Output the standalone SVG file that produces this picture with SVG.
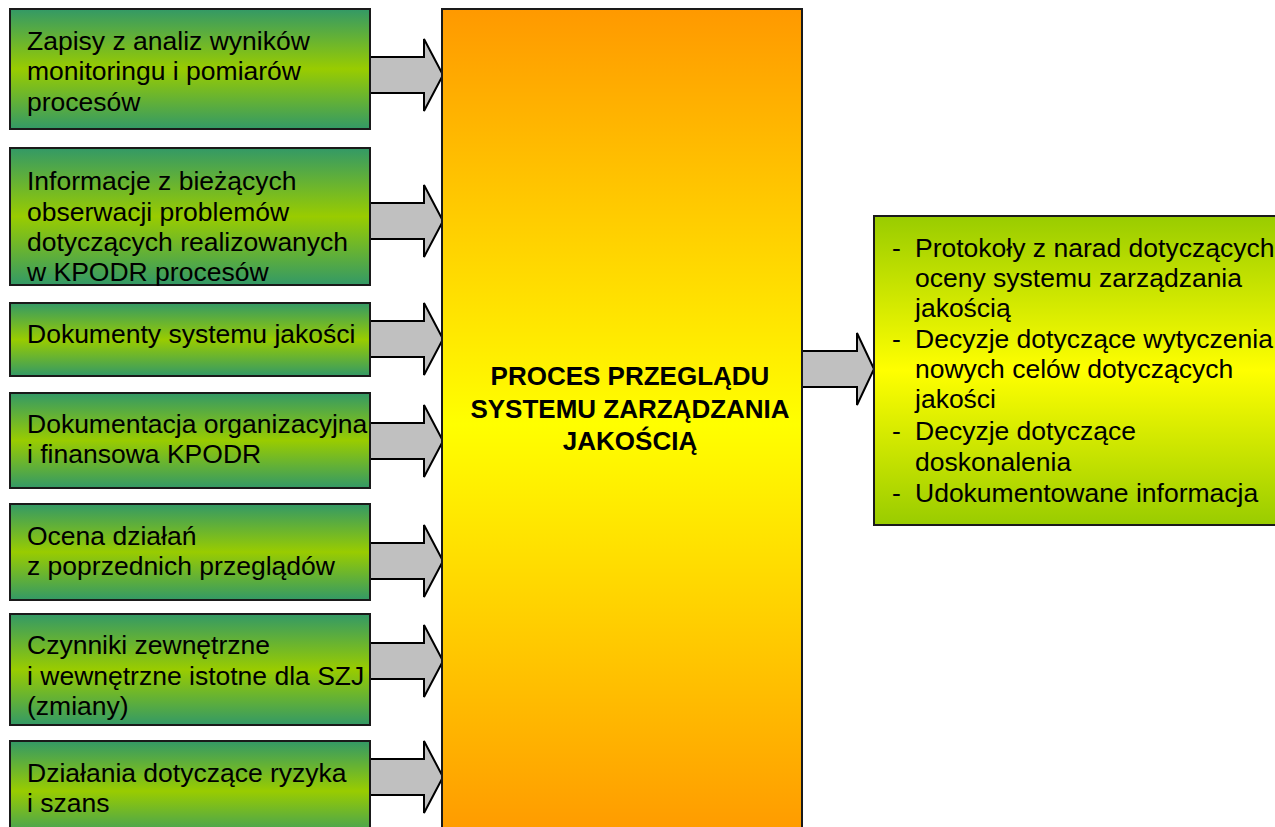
<svg xmlns="http://www.w3.org/2000/svg" width="1275" height="827" viewBox="0 0 1275 827">
<defs>
<linearGradient id="gGreen" x1="0" y1="0" x2="0" y2="1">
<stop offset="0" stop-color="#339966"/>
<stop offset="0.5" stop-color="#99CC00"/>
<stop offset="1" stop-color="#339966"/>
</linearGradient>
<linearGradient id="gOrange" x1="0" y1="0" x2="0" y2="1">
<stop offset="0" stop-color="#FF9900"/>
<stop offset="0.5" stop-color="#FFFF00"/>
<stop offset="1" stop-color="#FF9900"/>
</linearGradient>
<linearGradient id="gLime" x1="0" y1="0" x2="0" y2="1">
<stop offset="0" stop-color="#99CC00"/>
<stop offset="0.5" stop-color="#FFFF00"/>
<stop offset="1" stop-color="#99CC00"/>
</linearGradient>
</defs>
<style>
.box{stroke:#1a1a1a;stroke-width:2}
.in{fill:url(#gGreen)}
.arrow{fill:#C0C0C0;stroke:#000;stroke-width:2;stroke-linejoin:miter}
text{font-family:"Liberation Sans",Arial,sans-serif;font-size:26.5px;fill:#000}
.title{font-weight:bold;font-size:26px;text-anchor:middle}
</style>
<rect width="1275" height="827" fill="#FFFFFF"/>
<g id="connectors">
<path class="arrow" d="M370,57 H424 V39 L443,75 L424,111 V93 H370 Z"/>
<path class="arrow" d="M370,203 H424 V185 L443,221 L424,257 V239 H370 Z"/>
<path class="arrow" d="M370,321 H424 V303 L443,339 L424,375 V357 H370 Z"/>
<path class="arrow" d="M370,423 H424 V405 L443,441 L424,477 V459 H370 Z"/>
<path class="arrow" d="M370,543 H424 V525 L443,561 L424,597 V579 H370 Z"/>
<path class="arrow" d="M370,643 H424 V625 L443,661 L424,697 V679 H370 Z"/>
<path class="arrow" d="M370,759 H424 V741 L443,777 L424,813 V795 H370 Z"/>
<path class="arrow" d="M802,351 H857 V333 L874,369 L857,405 V387 H802 Z"/>
</g>
<g id="in1"><rect class="box in" x="10" y="9" width="360" height="120"/>
<text x="27" y="49.5">Zapisy z analiz wyników</text><text x="27" y="80">monitoringu i pomiarów</text><text x="27" y="110.5">procesów</text></g>
<g id="in2"><rect class="box in" x="10" y="148" width="360" height="137"/>
<text x="27" y="190">Informacje z bieżących</text><text x="27" y="220.5">obserwacji problemów</text><text x="27" y="250.5">dotyczących realizowanych</text><text x="27" y="280.5">w KPODR procesów</text></g>
<g id="in3"><rect class="box in" x="10" y="303" width="360" height="73"/>
<text x="27" y="343">Dokumenty systemu jakości</text></g>
<g id="in4"><rect class="box in" x="10" y="393" width="360" height="95"/>
<text x="27" y="433">Dokumentacja organizacyjna</text><text x="27" y="463">i finansowa KPODR</text></g>
<g id="in5"><rect class="box in" x="10" y="504" width="360" height="96"/>
<text x="27" y="545">Ocena działań</text><text x="27" y="574.5">z poprzednich przeglądów</text></g>
<g id="in6"><rect class="box in" x="10" y="614" width="360" height="111"/>
<text x="27" y="654">Czynniki zewnętrzne</text><text x="27" y="685">i wewnętrzne istotne dla SZJ</text><text x="27" y="715">(zmiany)</text></g>
<g id="in7"><rect class="box in" x="10" y="741" width="360" height="100"/>
<text x="27" y="782">Działania dotyczące ryzyka</text><text x="27" y="812">i szans</text></g>
<g id="process"><rect class="box" x="442" y="9" width="360" height="830" fill="url(#gOrange)"/>
<text class="title" x="630" y="385">PROCES PRZEGLĄDU</text><text class="title" x="630" y="417.5">SYSTEMU ZARZĄDZANIA</text><text class="title" x="630" y="450">JAKOŚCIĄ</text></g>
<g id="output"><rect class="box" x="874" y="216" width="410" height="309" fill="url(#gLime)"/>
<text x="892" y="257">-</text><text x="915" y="257">Protokoły z narad dotyczących</text>
<text x="915" y="287">oceny systemu zarządzania</text>
<text x="915" y="317">jakością</text>
<text x="892" y="348">-</text><text x="915" y="348">Decyzje dotyczące wytyczenia</text>
<text x="915" y="378">nowych celów dotyczących</text>
<text x="915" y="408">jakości</text>
<text x="892" y="440">-</text><text x="915" y="440">Decyzje dotyczące</text>
<text x="915" y="471">doskonalenia</text>
<text x="892" y="502">-</text><text x="915" y="502">Udokumentowane informacja</text>
</g>
</svg>
